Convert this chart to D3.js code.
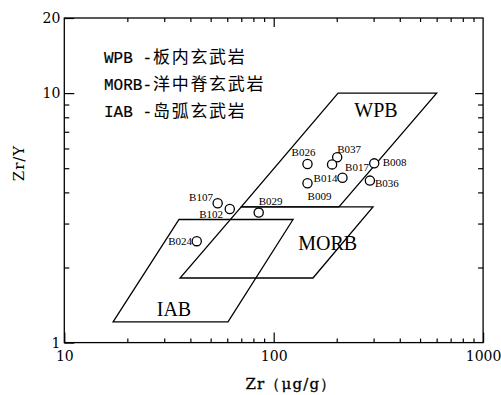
<!DOCTYPE html>
<html>
<head>
<meta charset="utf-8">
<script src="https://cdn.jsdelivr.net/npm/d3@7"></script>
<style>
  html, body { margin: 0; padding: 0; background: #fff; }
  svg { display: block; }
</style>
</head>
<body>
<svg id="chart" width="501" height="395"></svg>
<script>
// Basalt samples: Zr (μg/g) against Zr/Y
const sampleIds = ["B026", "B037", "B017", "B008", "B014", "B009", "B036", "B107", "B102", "B029", "B024"];
const zrValues  = [145, 201, 190, 302, 213, 145, 288, 54, 61.7, 84.8, 42.9];
const zrYValues = [5.20, 5.53, 5.18, 5.23, 4.58, 4.35, 4.46, 3.62, 3.43, 3.32, 2.55];

// Discrimination fields, vertices as [Zr, Zr/Y]
const wpbField  = [[203, 10], [600, 10], [205, 3.5], [70, 3.5]];
const morbField = [[70, 3.5], [298, 3.5], [154, 1.815], [35.7, 1.815]];
const iabField  = [[35.3, 3.115], [123.7, 3.115], [60.5, 1.21], [17.1, 1.21]];

// Axis ticks
const xMajorTicks = [10, 100, 1000];
const xMinorTicks = [20, 30, 40, 50, 60, 70, 80, 90, 200, 300, 400, 500, 600, 700, 800, 900];
const yMajorTicks = [1, 10, 20];
const yMinorTicks = [2, 3, 4, 5, 6, 7, 8, 9];

// Legend lines: code and name
const legendCodes = ["WPB -", "MORB-", "IAB -"];
const legendNames = ["板内玄武岩", "洋中脊玄武岩", "岛弧玄武岩"];

const svg = d3.select("#chart");
const plotLeft = 64.3, plotRight = 483.1, plotTop = 18.0, plotBottom = 342.6;

const x = d3.scaleLog().domain([10, 1000]).range([plotLeft, plotRight]);
const y = d3.scaleLog().domain([1, 20]).range([plotBottom, plotTop]);

const serif = "'DejaVu Serif', serif";

// frame
svg.append("rect")
  .attr("x", plotLeft).attr("y", plotTop)
  .attr("width", plotRight - plotLeft).attr("height", plotBottom - plotTop)
  .attr("fill", "none").attr("stroke", "#000").attr("stroke-width", 1.3);

function styleAxis(g) {
  g.select(".domain").remove();
  g.selectAll(".tick line").attr("stroke", "#000").attr("stroke-width", 1.2);
}

// bottom axis
svg.append("g").attr("transform", `translate(0,${plotBottom})`)
  .call(d3.axisBottom(x).tickValues(xMinorTicks).tickSize(-4).tickFormat(""))
  .call(styleAxis);
svg.append("g").attr("transform", `translate(0,${plotBottom})`)
  .call(d3.axisBottom(x).tickValues(xMajorTicks).tickSize(-10).tickPadding(8).tickFormat(d3.format("d")))
  .call(styleAxis)
  .call(g => g.selectAll("text").attr("font-family", serif).attr("font-size", 14).attr("fill", "#000"));

// top axis
svg.append("g").attr("transform", `translate(0,${plotTop})`)
  .call(d3.axisTop(x).tickValues(xMinorTicks).tickSize(-4).tickFormat(""))
  .call(styleAxis);
svg.append("g").attr("transform", `translate(0,${plotTop})`)
  .call(d3.axisTop(x).tickValues([100]).tickSize(-9).tickFormat(""))
  .call(styleAxis);

// left axis
svg.append("g").attr("transform", `translate(${plotLeft},0)`)
  .call(d3.axisLeft(y).tickValues(yMinorTicks).tickSize(-5).tickFormat(""))
  .call(styleAxis);
svg.append("g").attr("transform", `translate(${plotLeft},0)`)
  .call(d3.axisLeft(y).tickValues(yMajorTicks).tickSize(-10).tickPadding(4).tickFormat(d3.format("d")))
  .call(styleAxis)
  .call(g => g.selectAll("text").attr("font-family", serif).attr("font-size", 14).attr("fill", "#000"));

// right axis
svg.append("g").attr("transform", `translate(${plotRight},0)`)
  .call(d3.axisRight(y).tickValues(yMinorTicks).tickSize(-5).tickFormat(""))
  .call(styleAxis);
svg.append("g").attr("transform", `translate(${plotRight},0)`)
  .call(d3.axisRight(y).tickValues([10]).tickSize(-8).tickFormat(""))
  .call(styleAxis);

// axis titles
svg.append("text")
  .attr("x", 291).attr("y", 389)
  .attr("text-anchor", "middle")
  .attr("font-family", serif).attr("font-size", 15)
  .attr("letter-spacing", 1.2)
  .attr("stroke", "#000").attr("stroke-width", 0.3)
  .text("Zr（μg/g）");
svg.append("text")
  .attr("transform", "translate(24,163) rotate(-90)")
  .attr("text-anchor", "middle")
  .attr("font-family", serif).attr("font-size", 15)
  .attr("letter-spacing", 1)
  .text("Zr/Y");

// fields
const line = d3.line().x(d => x(d[0])).y(d => y(d[1]));
const fields = [
  { pts: wpbField, name: "WPB", at: [308, 8.0] },
  { pts: morbField, name: "MORB", at: [181, 2.35] },
  { pts: iabField, name: "IAB", at: [33.4, 1.278] }
];
svg.append("g").selectAll("path").data(fields).join("path")
  .attr("d", f => line(f.pts) + "Z")
  .attr("fill", "none").attr("stroke", "#000").attr("stroke-width", 1.3)
  .attr("stroke-linejoin", "miter");
svg.append("g").selectAll("text").data(fields).join("text")
  .attr("x", f => x(f.at[0])).attr("y", f => y(f.at[1]))
  .attr("text-anchor", "middle")
  .attr("font-family", "'Liberation Serif', serif").attr("font-size", 20)
  .text(f => f.name);

// legend
const legend = svg.append("g");
legendCodes.forEach((code, i) => {
  const t = legend.append("text").attr("x", 104).attr("y", 63 + i * 27)
    .attr("xml:space", "preserve");
  t.append("tspan").attr("font-family", "'Liberation Mono', monospace").attr("font-size", 16)
    .attr("stroke", "#000").attr("stroke-width", 0.2).text(code);
  t.append("tspan").attr("font-family", "'Noto Sans CJK SC', sans-serif").attr("font-size", 17)
    .attr("letter-spacing", 1.7).attr("dx", 1).text(legendNames[i]);
});

// sample label offsets relative to each circle (dx, dy, anchor)
const labelPos = {
  B026: [-4, -8, "middle"], B037: [12, -4.5, "middle"], B017: [13, 6.7, "start"],
  B008: [8.5, 3, "start"], B014: [-5, 4, "end"], B009: [12, 16.5, "middle"],
  B036: [5, 6, "start"], B107: [-4.7, -2, "end"], B102: [-6.7, 9, "end"],
  B029: [12, -7.5, "middle"], B024: [-4.7, 4, "end"]
};

const samples = sampleIds.map((id, i) => ({ id, zr: zrValues[i], ratio: zrYValues[i] }));
const pts = svg.append("g");
pts.selectAll("circle").data(samples).join("circle")
  .attr("cx", d => x(d.zr)).attr("cy", d => y(d.ratio)).attr("r", 4.6)
  .attr("fill", "#fff").attr("stroke", "#000").attr("stroke-width", 1.3);
pts.selectAll("text").data(samples).join("text")
  .attr("x", d => x(d.zr) + labelPos[d.id][0])
  .attr("y", d => y(d.ratio) + labelPos[d.id][1])
  .attr("text-anchor", d => labelPos[d.id][2])
  .attr("font-family", "'Liberation Serif', serif").attr("font-size", 11)
  .text(d => d.id);
</script>
</body>
</html>
